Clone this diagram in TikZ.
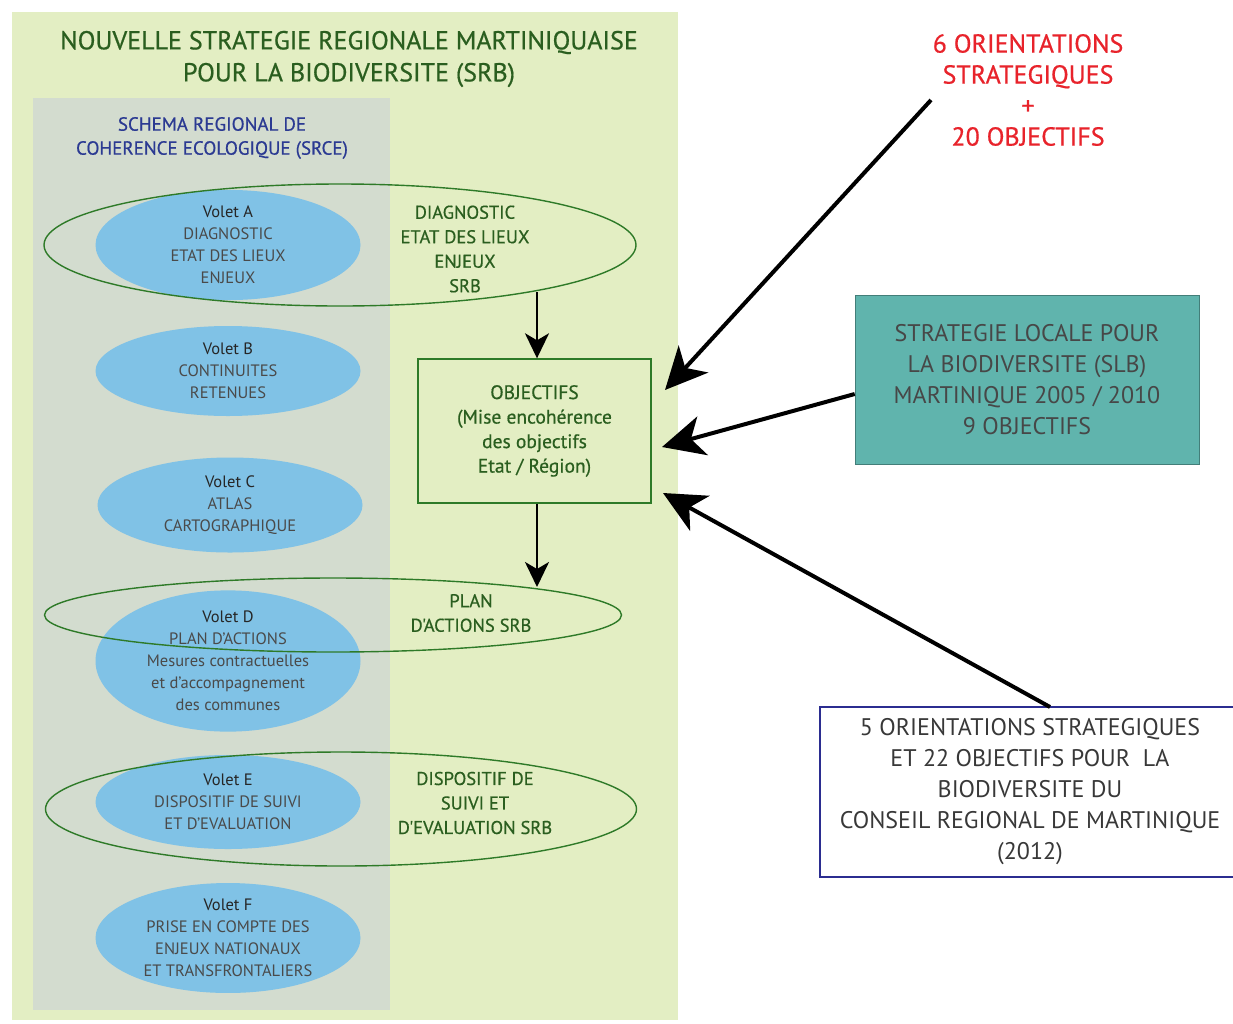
\documentclass[tikz,border=0pt]{standalone}
\usepackage{fontspec}
\setmainfont{PT Sans}
\usetikzlibrary{shapes.geometric,arrows.meta}
\definecolor{panel}{HTML}{E3EEC3}
\definecolor{inner}{HTML}{D3DCCF}
\definecolor{skyb}{HTML}{80C2E6}
\definecolor{dgreen}{HTML}{2E7A28}
\definecolor{tgreen}{HTML}{2A5E1F}
\definecolor{tblue}{HTML}{2B3A92}
\definecolor{tred}{HTML}{E8232B}
\definecolor{teal}{HTML}{60B4AD}
\definecolor{navy}{HTML}{2B2D90}
\definecolor{gtext}{HTML}{4A4A4A}
\newfontfamily\medfont[FakeBold=0.6]{PT Sans}
\tikzset{
  volet/.style={ellipse, fill=skyb, draw=none, minimum width=265pt, align=center, text=gtext, inner sep=0pt, font=\fontsize{16.5}{22}\selectfont},
  greenring/.style={ellipse, draw=dgreen, line width=1.4pt, inner sep=0pt},
  rtext/.style={align=center, text=tgreen, font=\medfont\fontsize{18.5}{24.5}\selectfont},
  bigarrow/.style={line width=4pt, -{Stealth[length=42pt,width=40pt,inset=12pt]}},
  downarrow/.style={line width=2.6pt, -{Stealth[length=25pt,width=24pt,inset=7pt]}},
}
\begin{document}
\begin{tikzpicture}[x=1pt,y=-1pt]
\useasboundingbox (0,0) rectangle (1233,1023);
\fill[white] (0,0) rectangle (1233,1023);
% panels
\node[fill=panel, minimum width=666pt, minimum height=1008pt, inner sep=0pt, anchor=north west] (panel) at (12,12) {};
\node[fill=inner, minimum width=357pt, minimum height=912pt, inner sep=0pt, anchor=north west] (srce) at (33,98) {};
% title
\node[align=center, text=tgreen, font=\medfont\fontsize{26}{32}\selectfont] (title) at (349,59) {NOUVELLE STRATEGIE REGIONALE MARTINIQUAISE\\POUR LA BIODIVERSITE (SRB)};
\node[align=center, text=tblue, font=\medfont\fontsize{19}{24}\selectfont] (srcet) at (212,138) {SCHEMA REGIONAL DE\\COHERENCE ECOLOGIQUE (SRCE)};
% volets
\node[volet, minimum height=96pt] (va) at (228,245) {\textcolor{black!85}{Volet A}\\DIAGNOSTIC\\ETAT DES LIEUX\\ENJEUX};
\node[volet, minimum height=90pt] (vb) at (228,371) {\textcolor{black!85}{Volet B}\\CONTINUITES\\RETENUES};
\node[volet, minimum height=95pt] (vc) at (230,505) {\textcolor{black!85}{Volet C}\\ATLAS\\CARTOGRAPHIQUE};
\node[volet, minimum height=114pt] (vd) at (228,661) {\textcolor{black!85}{Volet D}\\PLAN D'ACTIONS\\Mesures contractuelles\\et d'accompagnement\\des communes};
\node[volet, minimum height=94pt] (ve) at (228,802) {\textcolor{black!85}{Volet E}\\DISPOSITIF DE SUIVI\\ET D'EVALUATION};
\node[volet, minimum height=108pt] (vf) at (228,938) {\textcolor{black!85}{Volet F}\\PRISE EN COMPTE DES\\ENJEUX NATIONAUX\\ET TRANSFRONTALIERS};
% right texts
\node[rtext] (diag) at (465,249) {DIAGNOSTIC\\ETAT DES LIEUX\\ENJEUX\\SRB};
\node[rtext] (plan) at (471,613) {PLAN\\D'ACTIONS SRB};
\node[rtext] (disp) at (475,803) {DISPOSITIF DE\\SUIVI ET\\D'EVALUATION SRB};
% green rings
\node[greenring, minimum width=592pt, minimum height=122pt] (ga) at (340,245) {};
\node[greenring, minimum width=577pt, minimum height=74pt] (gd) at (333,615) {};
\node[greenring, minimum width=591pt, minimum height=114pt] (ge) at (341,809) {};
% objectifs box
\node[draw=dgreen, line width=1.4pt, minimum width=233pt, minimum height=144pt, align=center, text=tgreen, font=\medfont\fontsize{19.5}{24.5}\selectfont] (obj) at (534.5,431) {OBJECTIFS\\(Mise encohérence\\des objectifs\\Etat / Région)};
% right side
\node[align=center, text=tred, font=\medfont\fontsize{26}{31}\selectfont] (red) at (1028,90) {6 ORIENTATIONS\\STRATEGIQUES\\+\\20 OBJECTIFS};
\node[fill=teal, draw=teal!70!black, line width=0.6pt, minimum width=344pt, minimum height=169pt, align=center, text=black!72, font=\fontsize{24}{31}\selectfont] (slb) at (1027,379.5) {STRATEGIE LOCALE POUR\\LA BIODIVERSITE (SLB)\\MARTINIQUE 2005 / 2010\\9 OBJECTIFS};
\node[fill=white, draw=navy, line width=2pt, minimum width=420pt, minimum height=170pt, align=center, text=black!78, font=\fontsize{24}{31}\selectfont] (crm) at (1030,792) {5 ORIENTATIONS STRATEGIQUES\\ET 22 OBJECTIFS POUR\ \ LA\\BIODIVERSITE DU\\CONSEIL REGIONAL DE MARTINIQUE\\(2012)};
% arrows
\coordinate (s1) at (931,100);
\coordinate (e1) at (665,390);
\coordinate (e2) at (662,447);
\coordinate (s3) at (1050,707);
\coordinate (e3) at (663,493);
\draw[bigarrow] (s1) -- (e1);
\draw[bigarrow] (slb.west |- 0,394) -- (e2);
\draw[bigarrow] (s3) -- (e3);
\coordinate (da) at (537,292);
\draw[downarrow] (da) -- (obj.north -| da);
\coordinate (dd) at (537,587);
\draw[downarrow] (obj.south -| dd) -- (dd);
\end{tikzpicture}
\end{document}
